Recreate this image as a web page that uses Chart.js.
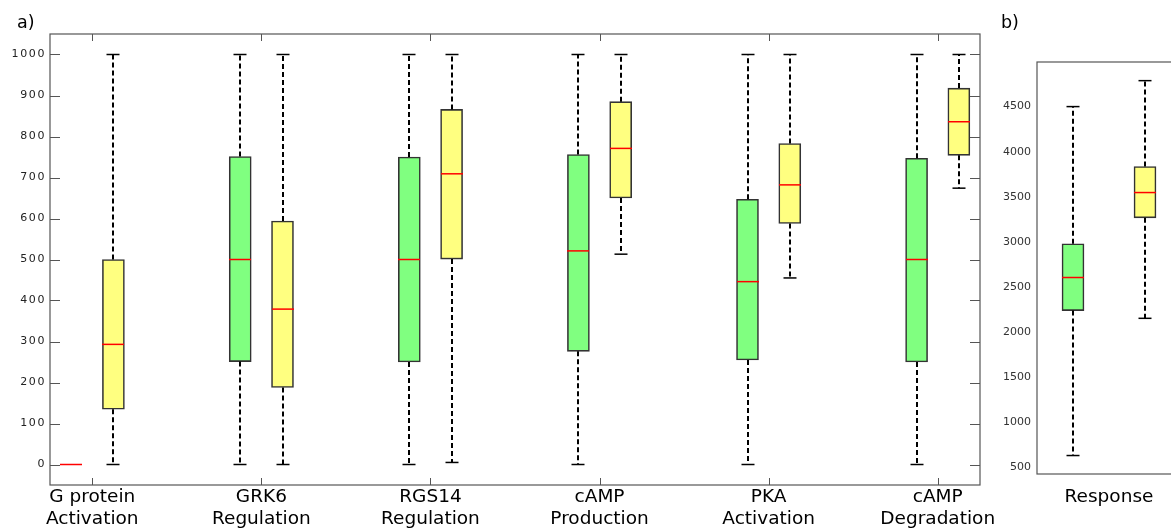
<!DOCTYPE html>
<html><head><meta charset="utf-8">
<script src="https://cdn.jsdelivr.net/npm/chart.js@4"></script>
<style>
html,body{margin:0;padding:0;background:#fff;overflow:hidden;width:1171px;height:529px;position:relative;}
#wrapA{position:absolute;left:0;top:0;width:1010px;height:529px;}
#wrapB{position:absolute;left:985px;top:0;width:200px;height:529px;}
.lbl{position:absolute;font-family:"DejaVu Sans";font-size:17.5px;line-height:1;color:#000;z-index:5;}
</style></head><body>
<div id="wrapA"><canvas id="ca" width="1010" height="529"></canvas></div>
<div id="wrapB"><canvas id="cb" width="200" height="529"></canvas></div>
<div class="lbl" style="left:17px;top:14px">a)</div>
<div class="lbl" style="left:1001px;top:14px">b)</div>
<script>
// ---- data (panel a) ----
const categories = [['G protein','Activation'],['GRK6','Regulation'],['RGS14','Regulation'],['cAMP','Production'],['PKA','Activation'],['cAMP','Degradation']];
const catPositions = [1,2,3,4,5,6];
const greenMin    = [0,0,0,0,0,0];
const greenQ1     = [0,251,250,276,255,250];
const greenMedian = [0,500,500,521,446,500];
const greenQ3     = [0,751,750,756,647,747];
const greenMax    = [0,1000,1000,1000,1000,1000];
const yellowMin    = [0,0,5,513,455,674];
const yellowQ1     = [135,188,501,650,588,754];
const yellowMedian = [293,379,709,771,682,836];
const yellowQ3     = [500,594,866,885,783,918];
const yellowMax    = [1000,1000,1000,1000,1000,1000];
const yTicksA = [0,100,200,300,400,500,600,700,800,900,1000];
// ---- data (panel b) ----
const respCategories = [['Response']];
const respPositions = [1];
const respGreenMin = [627], respGreenQ1 = [2236], respGreenMedian = [2603], respGreenQ3 = [2977], respGreenMax = [4500];
const respYellowMin = [2150], respYellowQ1 = [3265], respYellowMedian = [3546], respYellowQ3 = [3834], respYellowMax = [4788];
const yTicksB = [500,1000,1500,2000,2500,3000,3500,4000,4500];

const GREEN = '#80FF80', YELLOW = '#FFFF80', EDGE = '#333333', FRAME = '#555555';
const OFF = 0.125;

function boxData(pos, off, q1, q3){
  return pos.map((p,i)=>({x:p+off, y:[q1[i],q3[i]]})).filter(d=>d.y[0]!==d.y[1]);
}
function boxDataset(pos, off, q1, q3, color){
  return {data: boxData(pos, off, q1, q3), backgroundColor: color, borderColor: EDGE,
    borderWidth: 1.6, borderSkipped: false, barThickness: 22, grouped: false};
}
function whiskerPlugin(series){
  return {id:'whiskers', afterDatasetsDraw(chart){
    const xs = chart.scales.x, ys = chart.scales.y, ctx = chart.ctx;
    ctx.save();
    for (const s of series){
      for (let i=0;i<s.pos.length;i++){
        const cx = Math.round(xs.getPixelForValue(s.pos[i]+s.off));
        const yMin = ys.getPixelForValue(s.min[i]), yQ1 = ys.getPixelForValue(s.q1[i]);
        const yMed = ys.getPixelForValue(s.med[i]), yQ3 = ys.getPixelForValue(s.q3[i]);
        const yMax = ys.getPixelForValue(s.max[i]);
        ctx.strokeStyle = '#000'; ctx.lineWidth = 2; ctx.setLineDash([5,3]);
        if (s.max[i] > s.q3[i]) { ctx.beginPath(); ctx.moveTo(cx, yQ3); ctx.lineTo(cx, yMax); ctx.stroke(); }
        if (s.min[i] < s.q1[i]) { ctx.beginPath(); ctx.moveTo(cx, yQ1); ctx.lineTo(cx, yMin); ctx.stroke(); }
        ctx.setLineDash([]); ctx.lineWidth = 1.5;
        if (s.max[i] > s.q3[i]) { ctx.beginPath(); ctx.moveTo(cx-6.5, yMax); ctx.lineTo(cx+6.5, yMax); ctx.stroke(); }
        if (s.min[i] < s.q1[i]) { ctx.beginPath(); ctx.moveTo(cx-6.5, yMin); ctx.lineTo(cx+6.5, yMin); ctx.stroke(); }
        ctx.strokeStyle = '#FF0000'; ctx.lineWidth = 1.5;
        ctx.beginPath(); ctx.moveTo(cx-11, yMed); ctx.lineTo(cx+11, yMed); ctx.stroke();
      }
    }
    ctx.restore();
  }};
}
function framePlugin(opts){
  return {id:'frame', afterDraw(chart){
    const a = chart.chartArea, ctx = chart.ctx, xs = chart.scales.x, ys = chart.scales.y;
    ctx.save();
    ctx.strokeStyle = FRAME; ctx.lineWidth = 1.2;
    ctx.strokeRect(a.left, a.top, a.right-a.left, a.bottom-a.top);
    if (opts.ticks){
      ctx.lineWidth = 1;
      ctx.beginPath();
      for (const v of opts.yTicks){
        const y = Math.round(ys.getPixelForValue(v))+0.5;
        ctx.moveTo(a.left, y); ctx.lineTo(a.left+10, y);
        ctx.moveTo(a.right, y); ctx.lineTo(a.right-10, y);
      }
      for (const v of opts.xTicks){
        const x = Math.round(xs.getPixelForValue(v))+0.5;
        ctx.moveTo(x, a.top); ctx.lineTo(x, a.top+7);
        ctx.moveTo(x, a.bottom); ctx.lineTo(x, a.bottom-7);
      }
      ctx.stroke();
    }
    ctx.restore();
  }};
}
const letterSpacingPlugin = {id:'lsp', beforeDraw(chart){
  const s = chart.scales.y;
  if (!s._lsWrapped){
    const orig = s.drawLabels.bind(s);
    s.drawLabels = function(area){ const c = chart.ctx; c.save(); c.letterSpacing = '1.6px'; orig(area); c.restore(); };
    s._lsWrapped = true;
  }
}};
function noPad(s){ s.paddingLeft = 0; s.paddingRight = 0; }

Chart.defaults.font.family = 'DejaVu Sans';
Chart.defaults.animation = false;

new Chart(document.getElementById('ca'), {
  type: 'bar',
  data: {datasets: [
    boxDataset(catPositions, -OFF, greenQ1, greenQ3, GREEN),
    boxDataset(catPositions, OFF, yellowQ1, yellowQ3, YELLOW)
  ]},
  options: {
    responsive: false, animation: false, devicePixelRatio: 1,
    layout: {padding: {left: 0, right: 30, top: 34, bottom: 0}},
    plugins: {legend: {display: false}, tooltip: {enabled: false}},
    scales: {
      x: {type: 'linear', min: 0.75, max: 6.25, offset: false,
        grid: {display: false, drawTicks: false}, border: {display: false},
        afterBuildTicks: s => { s.ticks = catPositions.map(v => ({value: v})); },
        afterFit: s => { s.height = 44; noPad(s); },
        ticks: {padding: 2, maxRotation: 0, autoSkip: false, color: '#000',
          font: {size: 18.5, lineHeight: 1.15},
          callback: v => { const i = catPositions.indexOf(v); return i >= 0 ? categories[i] : ''; }}
      },
      y: {type: 'linear', min: -50, max: 1050,
        grid: {display: false, drawTicks: false}, border: {display: false},
        afterBuildTicks: s => { s.ticks = yTicksA.map(v => ({value: v})); },
        afterFit: s => { s.width = 50; },
        ticks: {padding: 4, color: '#222', font: {size: 11}, callback: v => String(v)}
      }
    }
  },
  plugins: [letterSpacingPlugin,
    whiskerPlugin([
      {pos: catPositions, off: -OFF, min: greenMin, q1: greenQ1, med: greenMedian, q3: greenQ3, max: greenMax},
      {pos: catPositions, off: OFF, min: yellowMin, q1: yellowQ1, med: yellowMedian, q3: yellowQ3, max: yellowMax}
    ]),
    framePlugin({ticks: true, yTicks: yTicksA, xTicks: catPositions})]
});

new Chart(document.getElementById('cb'), {
  type: 'bar',
  data: {datasets: [
    boxDataset(respPositions, -OFF, respGreenQ1, respGreenQ3, GREEN),
    boxDataset(respPositions, OFF, respYellowQ1, respYellowQ3, YELLOW)
  ]},
  options: {
    responsive: false, animation: false, devicePixelRatio: 1,
    layout: {padding: {left: 0, right: 4, top: 62, bottom: 0}},
    plugins: {legend: {display: false}, tooltip: {enabled: false}},
    scales: {
      x: {type: 'linear', min: 0.75, max: 1.25, offset: false,
        grid: {display: false, drawTicks: false}, border: {display: false},
        afterBuildTicks: s => { s.ticks = respPositions.map(v => ({value: v})); },
        afterFit: s => { s.height = 55; noPad(s); },
        ticks: {padding: 13, maxRotation: 0, autoSkip: false, color: '#000',
          font: {size: 18.5, lineHeight: 1.15},
          callback: v => { const i = respPositions.indexOf(v); return i >= 0 ? respCategories[i] : ''; }}
      },
      y: {type: 'linear', min: 422, max: 4995,
        grid: {display: false, drawTicks: false}, border: {display: false},
        afterBuildTicks: s => { s.ticks = yTicksB.map(v => ({value: v})); },
        afterFit: s => { s.width = 52; },
        ticks: {padding: 6, color: '#333', font: {size: 11}, callback: v => String(v)}
      }
    }
  },
  plugins: [
    whiskerPlugin([
      {pos: respPositions, off: -OFF, min: respGreenMin, q1: respGreenQ1, med: respGreenMedian, q3: respGreenQ3, max: respGreenMax},
      {pos: respPositions, off: OFF, min: respYellowMin, q1: respYellowQ1, med: respYellowMedian, q3: respYellowQ3, max: respYellowMax}
    ]),
    framePlugin({ticks: false})]
});
</script>
</body></html>
